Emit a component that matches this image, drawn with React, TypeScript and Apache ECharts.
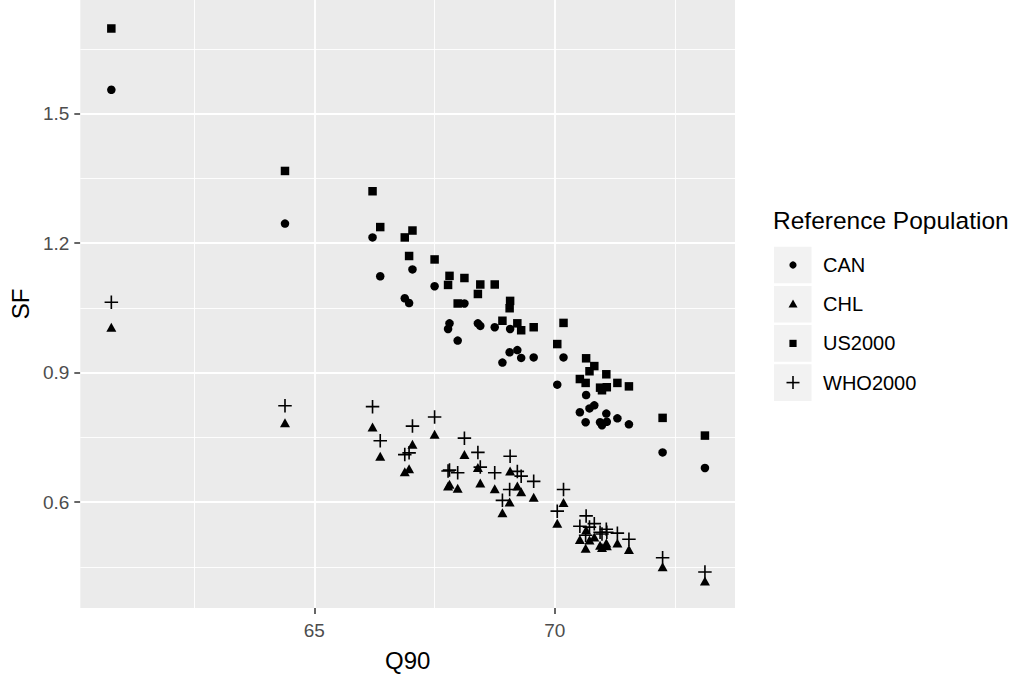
import React, { useEffect, useRef } from "react";
import * as echarts from "echarts";

const q90 = [60.78, 64.39, 66.21, 66.37, 66.88, 66.97, 67.04, 67.5, 67.78, 67.81, 67.98, 68.12, 68.4, 68.45, 68.75, 68.91, 69.06, 69.07, 69.22, 69.3, 69.56, 70.05, 70.18, 70.52, 70.65, 70.64, 70.72, 70.82, 70.94, 70.98, 71.07, 71.08, 71.3, 71.54, 72.24, 73.12];
const sfCAN = [1.555, 1.245, 1.213, 1.123, 1.072, 1.061, 1.139, 1.1, 1.001, 1.014, 0.974, 1.06, 1.014, 1.008, 1.005, 0.923, 0.947, 1.001, 0.952, 0.934, 0.935, 0.872, 0.935, 0.808, 0.848, 0.785, 0.817, 0.824, 0.785, 0.778, 0.805, 0.786, 0.794, 0.78, 0.715, 0.679];
const sfCHL = [1.005, 0.784, 0.774, 0.706, 0.67, 0.677, 0.734, 0.757, 0.637, 0.641, 0.632, 0.71, 0.68, 0.644, 0.631, 0.575, 0.6, 0.672, 0.637, 0.624, 0.611, 0.551, 0.599, 0.513, 0.535, 0.493, 0.512, 0.519, 0.5, 0.495, 0.505, 0.499, 0.505, 0.49, 0.45, 0.417];
const sfUS2000 = [1.697, 1.367, 1.32, 1.237, 1.213, 1.17, 1.229, 1.162, 1.103, 1.124, 1.06, 1.119, 1.082, 1.104, 1.104, 1.02, 1.049, 1.066, 1.014, 0.998, 1.005, 0.966, 1.015, 0.885, 0.933, 0.876, 0.903, 0.915, 0.865, 0.859, 0.896, 0.866, 0.876, 0.868, 0.795, 0.754];
const sfWHO2000 = [1.063, 0.823, 0.821, 0.742, 0.71, 0.714, 0.776, 0.797, 0.672, 0.674, 0.668, 0.748, 0.715, 0.681, 0.668, 0.604, 0.629, 0.706, 0.671, 0.66, 0.648, 0.579, 0.629, 0.544, 0.568, 0.523, 0.542, 0.55, 0.53, 0.526, 0.537, 0.53, 0.528, 0.514, 0.471, 0.438];

const groups = ["CAN", "CHL", "US2000", "WHO2000"];
const xTicks = [65, 70];
const xMinor = [62.5, 67.5, 72.5];
const yTicks = [0.6, 0.9, 1.2, 1.5];
const yMinor = [0.45, 0.75, 1.05, 1.35, 1.65];

const FONT = "'Liberation Sans', Arial, sans-serif";
const CROSS = "path://M-0.12,-1 L0.12,-1 L0.12,-0.12 L1,-0.12 L1,0.12 L0.12,0.12 L0.12,1 L-0.12,1 L-0.12,0.12 L-1,0.12 L-1,-0.12 L-0.12,-0.12 Z";

export default function App() {
  const ref = useRef<HTMLDivElement>(null);
  useEffect(() => {
    if (!ref.current) return;
    const chart = echarts.init(ref.current, null, { renderer: "svg" });
    const pts = (ys: number[]) => q90.map((x, i) => [x, ys[i]]);
    const gridLines = [
      ...xMinor.map((v) => ({ xAxis: v, lineStyle: { color: "#FFFFFF", width: 0.9, type: "solid" } })),
      ...xTicks.map((v) => ({ xAxis: v, lineStyle: { color: "#FFFFFF", width: 1.8, type: "solid" } })),
      ...yMinor.map((v) => ({ yAxis: v, lineStyle: { color: "#FFFFFF", width: 0.9, type: "solid" } })),
      ...yTicks.map((v) => ({ yAxis: v, lineStyle: { color: "#FFFFFF", width: 1.8, type: "solid" } })),
    ];
    const legendRows = [265, 304.2, 343.4, 382.6];
    const graphic: any[] = [
      { type: "text", left: 773, top: 208, style: { text: "Reference Population", font: `24.5px ${FONT}`, fill: "#000" } },
    ];
    legendRows.forEach((cy, i) => {
      graphic.push({ type: "rect", shape: { x: 774, y: cy - 18.3, width: 37.5, height: 36.6 }, style: { fill: "#F2F2F2" } });
      graphic.push({ type: "text", x: 823, y: cy, style: { text: groups[i], font: `20px ${FONT}`, fill: "#000", textVerticalAlign: "middle" } });
    });
    graphic.push({ type: "circle", shape: { cx: 793, cy: legendRows[0], r: 3.6 }, style: { fill: "#000" } });
    graphic.push({ type: "polygon", shape: { points: [[793, legendRows[1] - 4.6], [797.5, legendRows[1] + 3.4], [788.5, legendRows[1] + 3.4]] }, style: { fill: "#000" } });
    graphic.push({ type: "rect", shape: { x: 789.4, y: legendRows[2] - 3.6, width: 7.2, height: 7.2 }, style: { fill: "#000" } });
    graphic.push({ type: "rect", shape: { x: 786.5, y: legendRows[3] - 0.8, width: 13, height: 1.6 }, style: { fill: "#000" } });
    graphic.push({ type: "rect", shape: { x: 792.2, y: legendRows[3] - 6.5, width: 1.6, height: 13 }, style: { fill: "#000" } });

    const axisCommon = {
      type: "value",
      splitLine: { show: false },
      axisLine: { show: false },
      nameLocation: "middle",
      nameTextStyle: { color: "#000", fontSize: 24, fontFamily: FONT },
    };
    const marker = { color: "#000", opacity: 1 };
    chart.setOption({
      animation: false,
      grid: { left: 79, right: 281, top: 0, bottom: 69, show: true, backgroundColor: "#EBEBEB", borderWidth: 0 },
      xAxis: {
        ...axisCommon,
        min: 60.135,
        max: 73.745,
        name: "Q90",
        nameGap: 40,
        axisTick: { show: true, customValues: xTicks, length: 6, lineStyle: { color: "#333333", width: 1.5 } },
        axisLabel: { customValues: xTicks, color: "#4D4D4D", fontSize: 19, fontFamily: FONT, margin: 13 },
      },
      yAxis: {
        ...axisCommon,
        min: 0.3546,
        max: 1.763,
        name: "SF",
        nameGap: 48,
        axisTick: { show: true, customValues: yTicks, length: 6, lineStyle: { color: "#333333", width: 1.5 } },
        axisLabel: { customValues: yTicks, color: "#4D4D4D", fontSize: 19, fontFamily: FONT, margin: 11 },
      },
      graphic,
      series: [
        {
          type: "scatter",
          data: [],
          silent: true,
          z: 1,
          markLine: { silent: true, z: 1, symbol: ["none", "none"], label: { show: false }, emphasis: { disabled: true }, data: gridLines },
        },
        { name: "CAN", type: "scatter", z: 10, symbol: "circle", symbolSize: 8.5, itemStyle: marker, data: pts(sfCAN) },
        { name: "CHL", type: "scatter", z: 10, symbol: "triangle", symbolSize: [10, 9], itemStyle: marker, data: pts(sfCHL) },
        { name: "US2000", type: "scatter", z: 10, symbol: "rect", symbolSize: 8.5, itemStyle: marker, data: pts(sfUS2000) },
        { name: "WHO2000", type: "scatter", z: 10, symbol: CROSS, symbolSize: 13.5, itemStyle: marker, data: pts(sfWHO2000) },
      ],
    });
    return () => chart.dispose();
  }, []);
  return <div ref={ref} style={{ position: "absolute", left: 0, top: 0, width: 1016, height: 677 }} />;
}
